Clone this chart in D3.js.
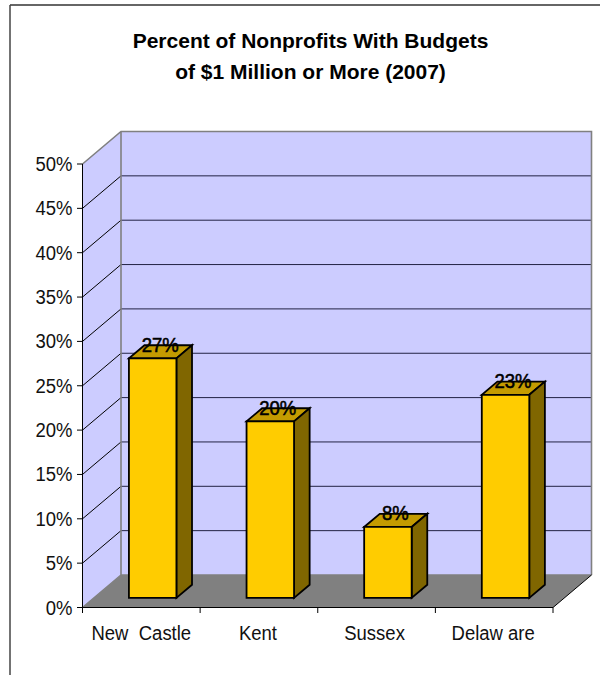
<!DOCTYPE html>
<html><head><meta charset="utf-8">
<script src="https://cdn.jsdelivr.net/npm/d3@7/dist/d3.min.js"></script>
<style>html,body{margin:0;padding:0;background:#fff}svg{display:block}text{font-family:"Liberation Sans",Arial,sans-serif}</style>
</head><body><svg id="c" width="600" height="675"></svg>
<script>
const categories=["New  Castle","Kent","Sussex","Delaw are"];
const values=[27,19.9,8,22.9];
const labels=["27%","20%","8%","23%"];
const tickValues=[0,5,10,15,20,25,30,35,40,45,50];
const titleLines=["Percent of Nonprofits With Budgets","of $1 Million or More (2007)"];

const svg=d3.select("#c");
const X0=82.5,X1=553,Y0=607.5,Y50=164,DX=38.5,DY=-32.5;
const y=d3.scaleLinear().domain([0,50]).range([Y0,Y50]);
const x=d3.scaleBand().domain(categories).range([X0,X1]);
const poly=(pts,fill,stroke,sw)=>svg.append("polygon").attr("points",pts.map(p=>p.join(",")).join(" ")).attr("fill",fill).attr("stroke",stroke||"none").attr("stroke-width",sw||0).attr("stroke-linejoin","miter");
const line=(a,b,c,w)=>svg.append("line").attr("x1",a[0]).attr("y1",a[1]).attr("x2",b[0]).attr("y2",b[1]).attr("stroke",c).attr("stroke-width",w);
const tallText=(tx,ty,anchor,size,sy,str)=>svg.append("text").attr("transform",`translate(${tx},${ty}) scale(1,${sy})`).attr("text-anchor",anchor).attr("font-size",size).attr("fill","#111").style("white-space","pre").text(str);

// chart frame
line([10,5],[600,5],"#333",1.5); line([10,5],[10,675],"#444",1.5);

// walls
poly([[X0+DX,y(0)+DY],[X1+DX,y(0)+DY],[X1+DX,y(50)+DY],[X0+DX,y(50)+DY]],"#ccccff");
poly([[X0,y(0)],[X0+DX,y(0)+DY],[X0+DX,y(50)+DY],[X0,y(50)]],"#ccccff");
poly([[X0,y(0)],[X1,y(0)],[X1+DX,y(0)+DY],[X0+DX,y(0)+DY]],"#808080");

// gridlines
tickValues.filter(t=>t>0&&t<50).forEach(t=>{
  line([X0,y(t)],[X0+DX,y(t)+DY],"#000",1);
  line([X0+DX,y(t)+DY],[X1+DX,y(t)+DY],"#222244",1);
});
// wall edges
svg.append("path").attr("fill","none").attr("stroke","#808080").attr("stroke-width",1.6)
 .attr("d",`M${X0},${y(50)}L${X0+DX},${y(50)+DY}L${X1+DX},${y(50)+DY}L${X1+DX},${y(0)+DY}M${X0+DX},${y(50)+DY}L${X0+DX},${y(0)+DY}L${X1+DX},${y(0)+DY}M${X0},${y(0)}L${X0+DX},${y(0)+DY}`);
line([X1,y(0)],[X1+DX,y(0)+DY],"#000",1);

// axes
line([X0,y(50)],[X0,y(0)],"#000",1);
line([X0,y(0)],[X1,y(0)],"#000",1.2);
tickValues.forEach(t=>{
  line([X0-5.5,y(t)],[X0,y(t)],"#000",1);
  tallText(72.5,y(t)+7,"end",18.5,1.1,t+"%");
});
x.domain().forEach(c=>line([x(c),y(0)],[x(c),y(0)+5.5],"#000",1));
line([X1,y(0)],[X1,y(0)+5.5],"#000",1);
const labelDx=[0,-1,-2,-1];
categories.forEach((c,i)=>{
  tallText(x(c)+x.bandwidth()/2+labelDx[i],639.5,"middle",18.5,1.1,c);
});

// bars
const zFront=0.295,zBack=0.70,bw=47.5;
categories.forEach((c,i)=>{
  const cx=x(c)+x.bandwidth()/2+DX*zFront;
  const l=cx-bw/2,r=cx+bw/2,yb=y(0)+DY*zFront,top=yb-(Y0-y(values[i]));
  const ox=DX*(zBack-zFront),oy=DY*(zBack-zFront);
  poly([[l,top],[r,top],[r+ox,top+oy],[l+ox,top+oy]],"#c49b00","#000",1.8);
  poly([[r,top],[r+ox,top+oy],[r+ox,yb+oy],[r,yb]],"#806600","#000",1.8);
  poly([[l,top],[r,top],[r,yb],[l,yb]],"#ffcc00","#000",1.8);
});
categories.forEach((c,i)=>{
  const cx=x(c)+x.bandwidth()/2+DX*zFront;
  const yb=y(0)+DY*zFront,top=yb-(Y0-y(values[i]));
  tallText(cx+7.5,top-6.5,"middle",18.5,1.1,labels[i]).attr("fill","#000").attr("stroke","#000").attr("stroke-width",0.5);
});

// title
titleLines.forEach((t,i)=>svg.append("text").attr("x",310.5).attr("y",48+i*31).attr("text-anchor","middle").attr("font-size",21).attr("font-weight","bold").attr("fill","#000").text(t));
</script></body></html>
